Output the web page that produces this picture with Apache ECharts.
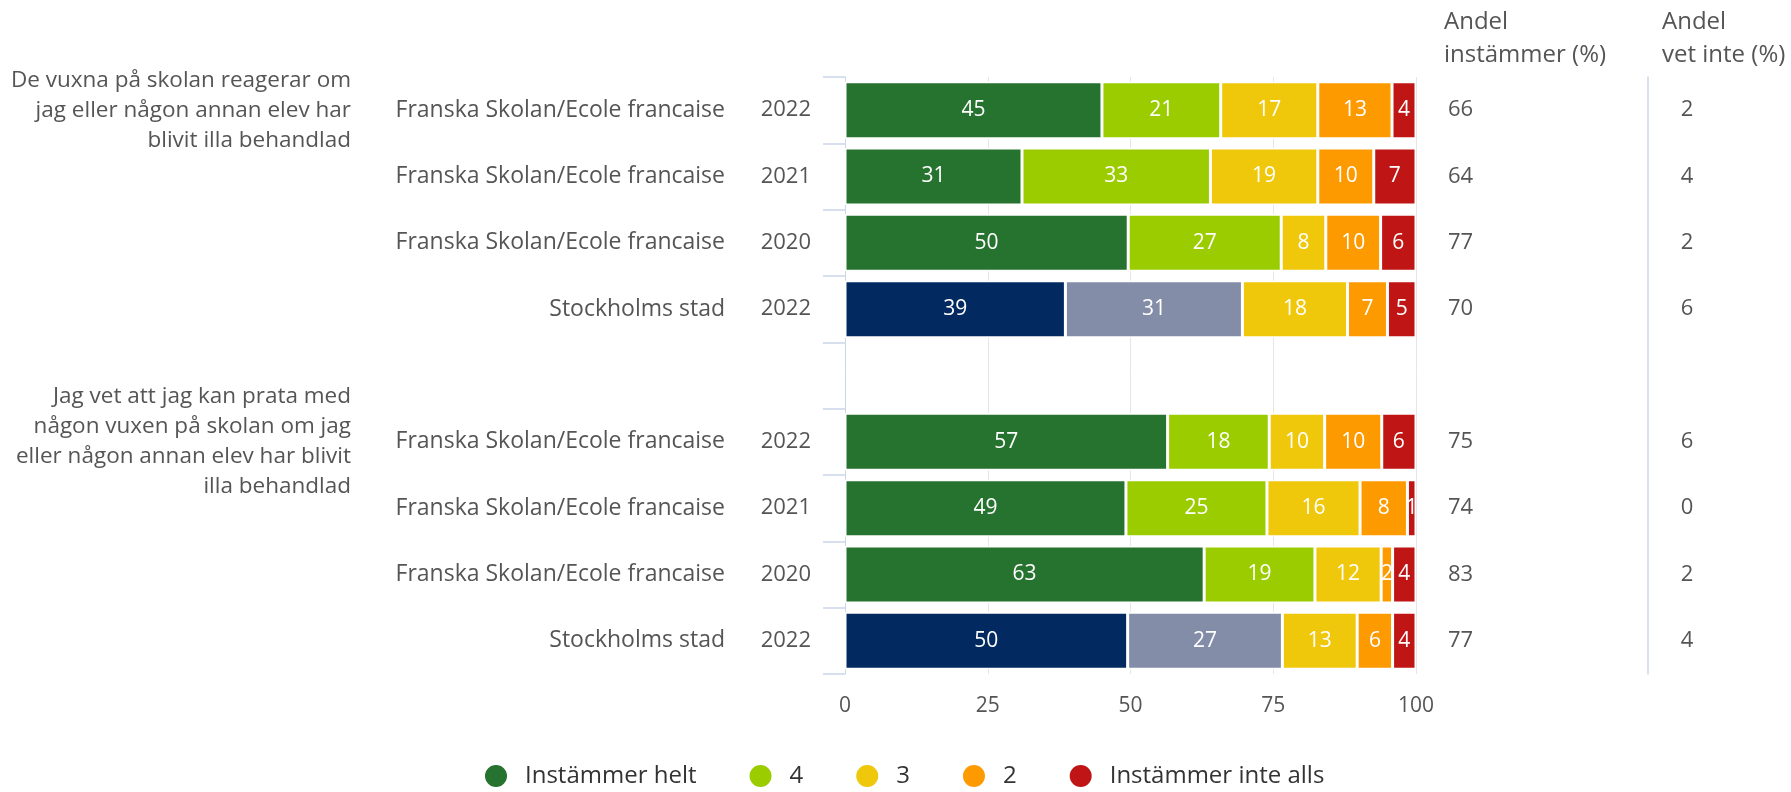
<!DOCTYPE html>
<html>
<head>
<meta charset="utf-8">
<script src="https://cdn.jsdelivr.net/npm/echarts@6/dist/echarts.min.js"></script>
<style>
html,body{margin:0;padding:0;background:#fff;}
#chart{width:1791px;height:792px;}
</style>
</head>
<body>
<div id="chart"></div>
<script>
// ---- data ----
const categories = ['Franska Skolan/Ecole francaise','Franska Skolan/Ecole francaise','Franska Skolan/Ecole francaise','Stockholms stad','',
                    'Franska Skolan/Ecole francaise','Franska Skolan/Ecole francaise','Franska Skolan/Ecole francaise','Stockholms stad'];
const years = ['2022','2021','2020','2022','','2022','2021','2020','2022'];
const questions = ['De vuxna på skolan reagerar om\njag eller någon annan elev har\nblivit illa behandlad','','','','',
                   'Jag vet att jag kan prata med\nnågon vuxen på skolan om jag\neller någon annan elev har blivit\nilla behandlad','','',''];
const seriesNames = ['Instämmer helt','4','3','2','Instämmer inte alls'];

// bar lengths
const helt  = [45.0, 31.0, 49.6, 38.6, null, 56.5, 49.2, 62.9, 49.5];
const four  = [20.8, 33.0, 26.8, 31.0, null, 17.8, 24.7, 19.4, 27.1];
const three = [17.0, 18.8,  7.8, 18.4, null,  9.7, 16.3, 11.6, 13.1];
const two   = [13.0,  9.8,  9.6,  7.0, null, 10.0,  8.3,  2.0,  6.2];
const inte  = [ 4.2,  7.4,  6.2,  5.0, null,  6.0,  1.5,  4.1,  4.1];

// printed labels
const heltLbl  = [45, 31, 50, 39, null, 57, 49, 63, 50];
const fourLbl  = [21, 33, 27, 31, null, 18, 25, 19, 27];
const threeLbl = [17, 19,  8, 18, null, 10, 16, 12, 13];
const twoLbl   = [13, 10, 10,  7, null, 10,  8,  2,  6];
const inteLbl  = [ 4,  7,  6,  5, null,  6,  1,  4,  4];

const andelInstammer = [66, 64, 77, 70, '', 75, 74, 83, 77];
const andelVetInte   = [2, 4, 2, 6, '', 6, 0, 2, 4];

const xTicks = [0, 25, 50, 75, 100];

// ---- styling ----
const FONT = 'Open Sans';
const colors = ['#26722f', '#9acc00', '#efc70b', '#fd9a00', '#bf1515'];
const stockholmColors = ['#022a61', '#838da8'];
const axisBlue = '#ccd6eb';
const textGray = '#555555';

const values = [helt, four, three, two, inte];
const labels = [heltLbl, fourLbl, threeLbl, twoLbl, inteLbl];

const series = seriesNames.map((name, si) => ({
  name: name,
  type: 'bar',
  stack: 'total',
  yAxisIndex: 0,
  barWidth: 57,
  itemStyle: { color: colors[si], borderColor: '#ffffff', borderWidth: 1.5 },
  label: {
    show: true,
    position: 'inside',
    color: '#ffffff',
    fontFamily: FONT,
    fontSize: 21,
    formatter: p => (labels[si][p.dataIndex] == null ? '' : String(labels[si][p.dataIndex]))
  },
  data: values[si].map((v, i) => {
    if (si < 2 && categories[i] === 'Stockholms stad') {
      return { value: v, itemStyle: { color: stockholmColors[si] } };
    }
    return v;
  })
}));

const chart = echarts.init(document.getElementById('chart'), null, { renderer: 'canvas' });
chart.setOption({
  backgroundColor: '#ffffff',
  animation: false,
  textStyle: { fontFamily: FONT },
  title: [
    { text: 'Andel\ninstämmer (%)', left: 1444, top: 6, padding: 0,
      textStyle: { fontFamily: FONT, fontSize: 24, fontWeight: 'normal', color: textGray, lineHeight: 33 } },
    { text: 'Andel\nvet inte (%)', left: 1662, top: 6, padding: 0,
      textStyle: { fontFamily: FONT, fontSize: 24, fontWeight: 'normal', color: textGray, lineHeight: 33 } }
  ],
  grid: { left: 845, right: 375, top: 77, bottom: 118, containLabel: false },
  legend: {
    data: seriesNames,
    top: 763,
    left: 483,
    padding: 0,
    icon: 'circle',
    itemWidth: 24,
    itemHeight: 24,
    itemGap: 51,
    textStyle: { fontFamily: FONT, fontSize: 24, color: '#333333', padding: [0, 0, 0, 12] }
  },
  xAxis: {
    type: 'value',
    min: xTicks[0],
    max: xTicks[xTicks.length - 1],
    interval: 25,
    axisLine: { show: false },
    axisTick: { show: false },
    splitLine: { show: true, lineStyle: { color: '#e6e6e6', width: 1 } },
    axisLabel: { color: textGray, fontFamily: FONT, fontSize: 21, margin: 22 }
  },
  yAxis: [
    { // main axis with category names
      type: 'category', inverse: true, position: 'left', data: categories,
      axisLine: { show: true, lineStyle: { color: axisBlue, width: 1 } },
      axisTick: { show: true, length: 22, lineStyle: { color: axisBlue, width: 1.5 } },
      axisLabel: { color: textGray, fontFamily: FONT, fontSize: 23, margin: 120 },
      splitLine: { show: false }
    },
    { // years
      type: 'category', inverse: true, position: 'left', data: years,
      axisLine: { show: false }, axisTick: { show: false },
      axisLabel: { color: textGray, fontFamily: FONT, fontSize: 22, margin: 34 }
    },
    { // questions
      type: 'category', inverse: true, position: 'left', data: questions,
      axisLine: { show: false }, axisTick: { show: false },
      axisLabel: { color: textGray, fontFamily: FONT, fontSize: 22.5, margin: 494, lineHeight: 30, align: 'right' }
    },
    { // andel instämmer
      type: 'category', inverse: true, position: 'right', data: andelInstammer.map(String),
      axisLine: { show: false }, axisTick: { show: false },
      axisLabel: { color: textGray, fontFamily: FONT, fontSize: 22, margin: 32, align: 'left' }
    },
    { // andel vet inte
      type: 'category', inverse: true, position: 'right', offset: 232, data: andelVetInte.map(String),
      axisLine: { show: true, lineStyle: { color: axisBlue, width: 1.5 } }, axisTick: { show: false },
      axisLabel: { color: textGray, fontFamily: FONT, fontSize: 22, margin: 39, align: 'center' }
    }
  ],
  series: series
});
</script>
</body>
</html>
